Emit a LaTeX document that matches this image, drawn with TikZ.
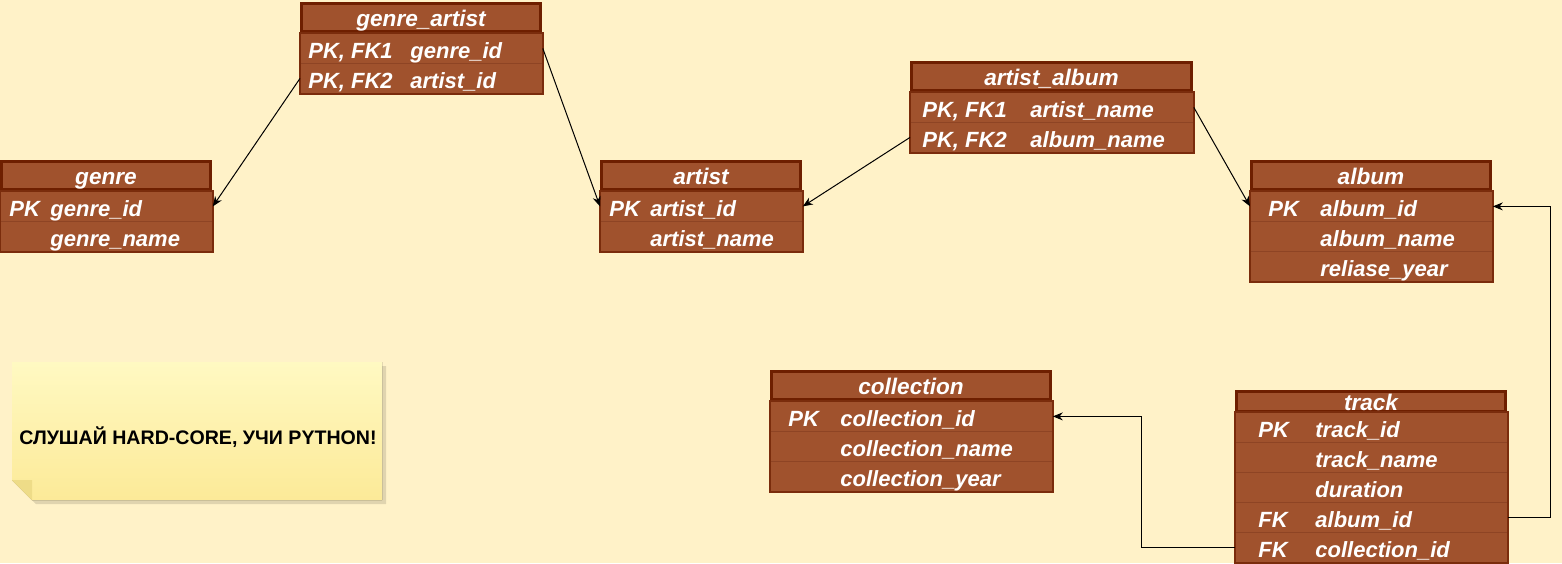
\documentclass[tikz,border=0pt]{standalone}
\usepackage{fontspec}
\setmainfont{Liberation Sans}
\usepackage{xcolor}
\usepackage{tikz}
\usetikzlibrary{positioning,calc,arrows.meta}

\definecolor{paper}{HTML}{FFF2C8}
\definecolor{sienna}{HTML}{A0522D}
\definecolor{hdrline}{HTML}{6E1F00}
\definecolor{rowline}{HTML}{8E4424}
\definecolor{frameline}{HTML}{7A2C0C}
\definecolor{noteA}{HTML}{FFF9C2}
\definecolor{noteB}{HTML}{FCEA98}
\definecolor{fold}{HTML}{EEDC88}

\begin{document}
\begin{tikzpicture}[x=0.5pt,y=-0.5pt,
	hdr/.style={draw=hdrline, line width=1.5pt, fill=sienna, inner sep=0pt, minimum height=14pt,
		text height=9.5pt, text depth=0.5pt, text=white, font=\fontsize{11.3}{12}\selectfont\bfseries\itshape},
	rowbox/.style={draw=rowline, line width=0.4pt, fill=sienna, inner sep=0pt, minimum height=15pt, anchor=north west},
	txt/.style={text=white, anchor=base west, inner sep=0pt, font=\fontsize{11}{12}\selectfont\bfseries\itshape},
	frame/.style={draw=frameline, line width=0.9pt},
	link/.style={-{Stealth[length=5pt,width=4pt]}, line width=0.5pt}]
	
	% фон
	\fill[paper] (0,0) rectangle (1562,563);
	\useasboundingbox (0,0) rectangle (1562,563);
	
	% genre_artist
	\node[hdr, minimum width=119.5pt] (ga) at (421,17.5) {genre\_artist};
	\foreach \k/\f [count=\i] in {{PK, FK1}/genre\_id, {PK, FK2}/artist\_id}{
		\node[rowbox, minimum width=121pt] (ga\i) at (300,3+30*\i) {};
		\node[txt] (ga-k\i) at (308,28+30*\i) {\k};
		\node[txt] (ga-f\i) at (410,28+30*\i) {\f};
	}
	\draw[frame] (ga1.north west) rectangle (ga2.south east);
	
	% genre
	\node[hdr, minimum width=104.5pt] (genre) at (106,175.5) {genre};
	\foreach \k/\f [count=\i] in {PK/genre\_id, {}/genre\_name}{
		\node[rowbox, minimum width=106pt] (genre\i) at (0,161+30*\i) {};
		\node[txt] (genre-k\i) at (9,186+30*\i) {\k};
		\node[txt] (genre-f\i) at (50,186+30*\i) {\f};
	}
	\draw[frame] (genre1.north west) rectangle (genre2.south east);
	
	% artist
	\node[hdr, minimum width=99.5pt] (artist) at (701,175.5) {artist};
	\foreach \k/\f [count=\i] in {PK/artist\_id, {}/artist\_name}{
		\node[rowbox, minimum width=101pt] (artist\i) at (600,161+30*\i) {};
		\node[txt] (artist-k\i) at (609,186+30*\i) {\k};
		\node[txt] (artist-f\i) at (650,186+30*\i) {\f};
	}
	\draw[frame] (artist1.north west) rectangle (artist2.south east);
	
	% artist_album
	\node[hdr, minimum width=140pt] (aa) at (1051.5,76.5) {artist\_album};
	\foreach \k/\f [count=\i] in {{PK, FK1}/artist\_name, {PK, FK2}/album\_name}{
		\node[rowbox, minimum width=141.5pt] (aa\i) at (910,62+30*\i) {};
		\node[txt] (aa-k\i) at (922,87+30*\i) {\k};
		\node[txt] (aa-f\i) at (1030,87+30*\i) {\f};
	}
	\draw[frame] (aa1.north west) rectangle (aa2.south east);
	
	% album
	\node[hdr, minimum width=119.5pt] (album) at (1371,175.5) {album};
	\foreach \k/\f [count=\i] in {PK/album\_id, {}/album\_name, {}/reliase\_year}{
		\node[rowbox, minimum width=121pt] (album\i) at (1250,161+30*\i) {};
		\node[txt] (album-k\i) at (1268,186+30*\i) {\k};
		\node[txt] (album-f\i) at (1320,186+30*\i) {\f};
	}
	\draw[frame] (album1.north west) rectangle (album3.south east);
	
	% collection
	\node[hdr, minimum width=139.5pt] (col) at (911,385.5) {collection};
	\foreach \k/\f [count=\i] in {PK/collection\_id, {}/collection\_name, {}/collection\_year}{
		\node[rowbox, minimum width=141pt] (col\i) at (770,371+30*\i) {};
		\node[txt] (col-k\i) at (788,396+30*\i) {\k};
		\node[txt] (col-f\i) at (840,396+30*\i) {\f};
	}
	\draw[frame] (col1.north west) rectangle (col3.south east);
	
	% track
	\node[hdr, minimum width=134.5pt, minimum height=9pt] (track) at (1371,401.5) {track};
	\foreach \k/\f [count=\i] in {PK/track\_id, {}/track\_name, {}/duration, FK/album\_id, FK/collection\_id}{
		\node[rowbox, minimum width=136pt] (track\i) at (1235,382+30*\i) {};
		\node[txt] (track-k\i) at (1258,407+30*\i) {\k};
		\node[txt] (track-f\i) at (1315,407+30*\i) {\f};
	}
	\draw[frame] (track1.north west) rectangle (track5.south east);
	
	% связи
	\draw[link] (ga2.west) -- (genre1.east);
	\draw[link] (ga1.east) -- (artist1.west);
	\draw[link] (aa2.west) -- (artist1.east);
	\draw[link] (aa1.east) -- (album1.west);
	\draw[link] (track4.east) -- ++(43,0) |- (album1.east);
	\draw[link] (track5.west) -- ++(-94,0) |- (col1.east);
	
	% заметка
	\fill[black, opacity=0.12] (16,366) -- (386,366) -- (386,504) -- (36,504) -- (16,484) -- cycle;
	\fill[top color=noteA, bottom color=noteB] (12,362) -- (382,362) -- (382,500) -- (32,500) -- (12,480) -- cycle;
	\fill[fold] (12,480) -- (32,480) -- (32,500) -- cycle;
	\node[font=\fontsize{9.8}{11}\selectfont\bfseries] (note) at (198,437) {СЛУШАЙ HARD-CORE, УЧИ PYTHON!};
\end{tikzpicture}
\end{document}
